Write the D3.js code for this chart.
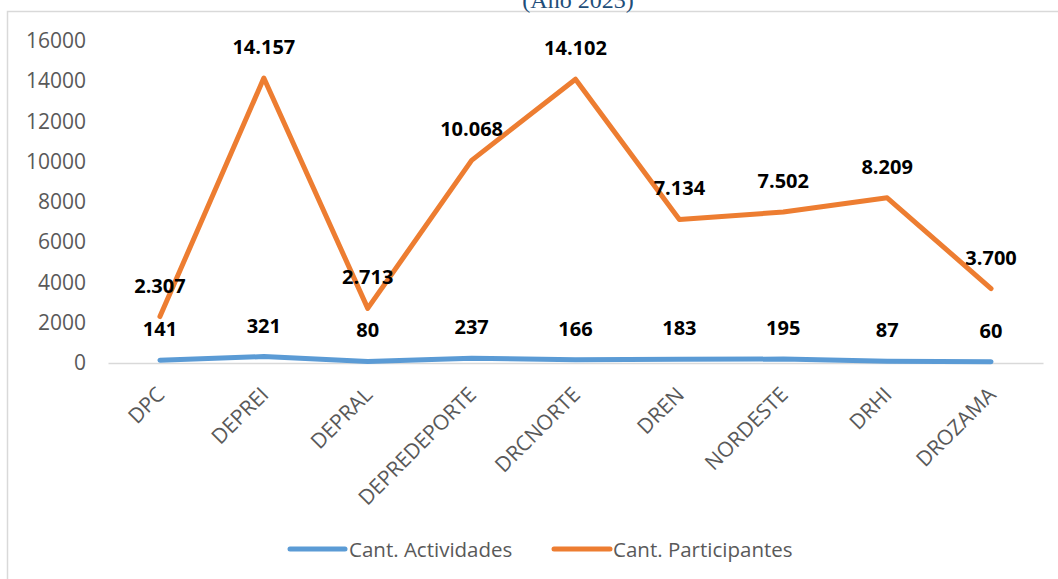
<!DOCTYPE html>
<html><head><meta charset="utf-8">
<script src="https://cdn.jsdelivr.net/npm/d3@7"></script>
<style>html,body{margin:0;padding:0;background:#fff;overflow:hidden}</style>
</head><body>
<script>
const categories = ["DPC","DEPREI","DEPRAL","DEPREDEPORTE","DRCNORTE","DREN","NORDESTE","DRHI","DROZAMA"];
const actividades = [141,321,80,237,166,183,195,87,60];
const participantes = [2307,14157,2713,10068,14102,7134,7502,8209,3700];
const yTicks = [0,2000,4000,6000,8000,10000,12000,14000,16000];
const seriesNames = ["Cant. Actividades","Cant. Participantes"];
const colors = ["#5B9BD5","#ED7D31"];
const titleText = "(Año 2023)";

const W = 1058, H = 579;
const svg = d3.select("body").append("svg").attr("width", W).attr("height", H);

svg.append("rect").attr("x",7.5).attr("y",11.5).attr("width",1200).attr("height",800)
  .attr("fill","#fff").attr("stroke","#d9d9d9").attr("stroke-width",1.5);

svg.append("text").attr("x",578).attr("y",8).attr("text-anchor","middle")
  .attr("font-family","Liberation Serif").attr("font-size",24).attr("fill","#1F4E79").text(titleText);

const x = d3.scaleBand().domain(categories).range([108,1043]);
const y = d3.scaleLinear().domain([0,16000]).range([363,41]);

// y axis labels
const yAxis = d3.axisLeft(y).tickValues(yTicks).tickSize(0).tickPadding(0).tickFormat(d3.format("d"));
const gy = svg.append("g").attr("transform","translate(86,0)").call(yAxis);
gy.select(".domain").remove();
gy.selectAll("text").attr("font-family","Open Sans").attr("font-size",21).attr("fill","#595959");

// x baseline
const xAxis = d3.axisBottom(x).tickSize(0).tickFormat("");
const gx = svg.append("g").attr("transform",`translate(0,${y(0)})`).call(xAxis);
gx.select(".domain").attr("stroke","#d9d9d9").attr("stroke-width",1.5);

// category labels
svg.append("g").selectAll("text").data(categories).join("text")
  .attr("transform", d => `translate(${x(d)+x.bandwidth()/2+6},${y(0)+33}) rotate(-45)`)
  .attr("text-anchor","end")
  .attr("font-family","Open Sans").attr("font-size",21).attr("fill","#595959")
  .text(d => d);

const line = d3.line().x((d,i)=>x(categories[i])+x.bandwidth()/2).y(d=>y(d));
[actividades, participantes].forEach((s,k)=>{
  svg.append("path").datum(s).attr("d",line).attr("fill","none")
    .attr("stroke",colors[k]).attr("stroke-width",5)
    .attr("stroke-linecap","round").attr("stroke-linejoin","round");
});

const fmt = v => d3.format(",")(v).replace(/,/g,".");
[actividades, participantes].forEach((s,k)=>{
  svg.append("g").selectAll("text").data(s).join("text")
    .attr("x",(d,i)=>x(categories[i])+x.bandwidth()/2)
    .attr("y",d=>y(d)-24)
    .attr("text-anchor","middle")
    .attr("font-family","Open Sans").attr("font-weight","bold").attr("font-size",20).attr("fill","#000")
    .text(d=>fmt(d));
});

// legend
const leg = [{x1:290,x2:345,tx:349},{x1:554,x2:610,tx:613}];
leg.forEach((l,k)=>{
  svg.append("line").attr("x1",l.x1).attr("x2",l.x2).attr("y1",549).attr("y2",549)
    .attr("stroke",colors[k]).attr("stroke-width",5).attr("stroke-linecap","round");
  svg.append("text").attr("x",l.tx).attr("y",556.5)
    .attr("font-family","Open Sans").attr("font-size",20.5).attr("fill","#595959").text(seriesNames[k]);
});
</script>
</body></html>
